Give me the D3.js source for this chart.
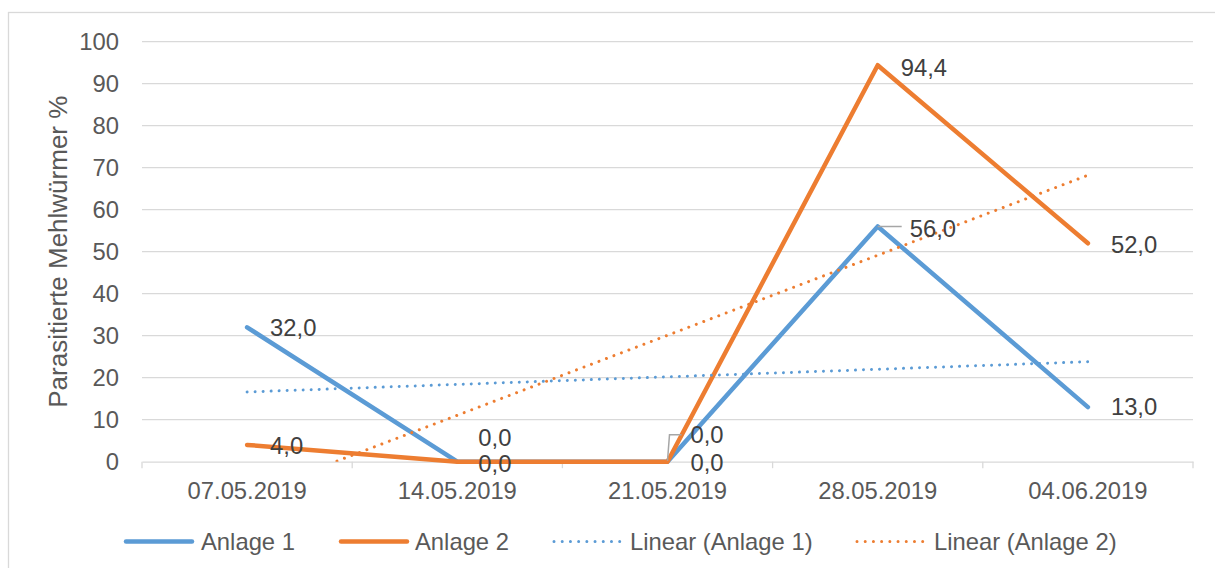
<!DOCTYPE html>
<html><head><meta charset="utf-8">
<script src="https://cdn.jsdelivr.net/npm/d3@7"></script>
<style>body{margin:0;background:#fff}svg{display:block;font-family:"Liberation Sans",Arial,sans-serif}</style>
</head><body>
<svg id="c" width="1215" height="568"></svg>
<script>
const categories = ["07.05.2019","14.05.2019","21.05.2019","28.05.2019","04.06.2019"];
const anlage1 = [32.0, 0.0, 0.0, 56.0, 13.0];
const anlage2 = [4.0, 0.0, 0.0, 94.4, 52.0];
// linear trendline endpoints (first / last category)
const trend1 = [16.6, 23.8];
const trend2 = [-8.0, 68.2];
const yTicks = [0,10,20,30,40,50,60,70,80,90,100];
const seriesNames = ["Anlage 1","Anlage 2","Linear (Anlage 1)","Linear (Anlage 2)"];

const blue = "#5B9BD5", orange = "#ED7D31", txt = "#595959", grid = "#D9D9D9";
const FS = "23.8px";
const svg = d3.select("#c");
const L = 142, R = 1193, T = 41.7, B = 461.7;

svg.append("rect").attr("x",8.5).attr("y",12.5).attr("width",1220).attr("height",570)
  .attr("fill","#fff").attr("stroke",grid).attr("stroke-width",1.3);

const x = d3.scaleBand().domain(categories).range([L,R]);
const cx = d => x(d) + x.bandwidth()/2;
const y = d3.scaleLinear().domain([0,100]).range([B,T]);

// gridlines
svg.append("g").selectAll("line").data(yTicks.filter(v=>v>0)).join("line")
  .attr("x1",L).attr("x2",R).attr("y1",d=>y(d)).attr("y2",d=>y(d))
  .attr("stroke",grid).attr("stroke-width",1.3);

// y axis labels
const ya = svg.append("g").attr("transform",`translate(${L},0)`)
  .call(d3.axisLeft(y).tickValues(yTicks).tickSize(0).tickPadding(23));
ya.select(".domain").remove();
ya.selectAll("text").attr("fill",txt).style("font-size",FS).style("font-family","Liberation Sans, Arial, sans-serif");

// x axis
const xa = svg.append("g").attr("transform",`translate(0,${B})`)
  .call(d3.axisBottom(x).tickSize(0).tickPadding(20));
xa.select(".domain").attr("stroke",grid).attr("stroke-width",1.3);
xa.selectAll("text").attr("fill",txt).style("font-size",FS).style("font-family","Liberation Sans, Arial, sans-serif");
const bounds = categories.map(c=>x(c)).concat([R]);
svg.append("g").selectAll("line").data(bounds).join("line")
  .attr("x1",d=>d).attr("x2",d=>d).attr("y1",B).attr("y2",B+6.5)
  .attr("stroke",grid).attr("stroke-width",1.3);

// y title
svg.append("text").attr("transform",`translate(67,${(T+B)/2}) rotate(-90)`)
  .attr("text-anchor","middle").attr("fill",txt).style("font-size","26px")
  .text("Parasitierte Mehlwürmer %");

// clip for trendlines
svg.append("clipPath").attr("id","clip").append("rect")
  .attr("x",L).attr("y",T-20).attr("width",R-L).attr("height",B-T+20);

const line = d3.line().x((d,i)=>cx(categories[i])).y(d=>y(d));
const tline = d3.line().x((d,i)=>cx(categories[i===0?0:categories.length-1])).y(d=>y(d));

function trend(data,color){
  svg.append("path").attr("d",tline(data)).attr("clip-path","url(#clip)")
    .attr("fill","none").attr("stroke",color).attr("stroke-width",3)
    .attr("stroke-linecap","round").attr("stroke-dasharray","0.01 8");
}
function main(data,color){
  svg.append("path").attr("d",line(data)).attr("fill","none").attr("stroke",color)
    .attr("stroke-width",4.5).attr("stroke-linejoin","round").attr("stroke-linecap","round");
}
main(anlage1, blue);
main(anlage2, orange);
trend(trend1, blue);
trend(trend2, orange);

// leader lines
const lead = svg.append("g").attr("stroke","#A6A6A6").attr("stroke-width",1.5).attr("fill","none");
lead.append("path").attr("d",`M${cx(categories[3])},${y(anlage1[3])}H${cx(categories[3])+24}`);
lead.append("path").attr("d",`M${cx(categories[2])},${y(anlage1[2])-1}L${cx(categories[2])+2},${y(anlage1[2])-27}H${cx(categories[2])+14}`);

// data labels: [series values, index, dx, dy]
const fmt = v => d3.format(".1f")(v).replace(".",",");
const labels = [
  [anlage1,0,23,0],[anlage1,1,21,-24],[anlage1,2,23,-27],[anlage1,3,32,2],[anlage1,4,23,0],
  [anlage2,0,23,1],[anlage2,1,21,2],[anlage2,2,23,1],[anlage2,3,23,2],[anlage2,4,23,1]
];
svg.append("g").selectAll("text").data(labels).join("text")
  .attr("x",d=>cx(categories[d[1]])+d[2]).attr("y",d=>y(d[0][d[1]])+d[3])
  .attr("dy","0.35em").attr("fill","#404040").style("font-size",FS)
  .text(d=>fmt(d[0][d[1]]));

// legend
const leg = [
  {name:seriesNames[0],color:blue,dot:false,x1:126,x2:192,tx:201},
  {name:seriesNames[1],color:orange,dot:false,x1:341,x2:407,tx:415},
  {name:seriesNames[2],color:blue,dot:true,x1:554,x2:620,tx:630},
  {name:seriesNames[3],color:orange,dot:true,x1:857,x2:923,tx:934}
];
const ly = 541.5;
const lg = svg.append("g").selectAll("g").data(leg).join("g");
lg.append("line").attr("x1",d=>d.x1).attr("x2",d=>d.x2).attr("y1",ly).attr("y2",ly)
  .attr("stroke",d=>d.color).attr("stroke-width",d=>d.dot?3:4.5).attr("stroke-linecap","round")
  .attr("stroke-dasharray",d=>d.dot?"0.01 8.2":null);
lg.append("text").attr("x",d=>d.tx).attr("y",ly).attr("dy","0.35em").attr("fill",txt)
  .style("font-size",FS).text(d=>d.name);
</script>
</body></html>
